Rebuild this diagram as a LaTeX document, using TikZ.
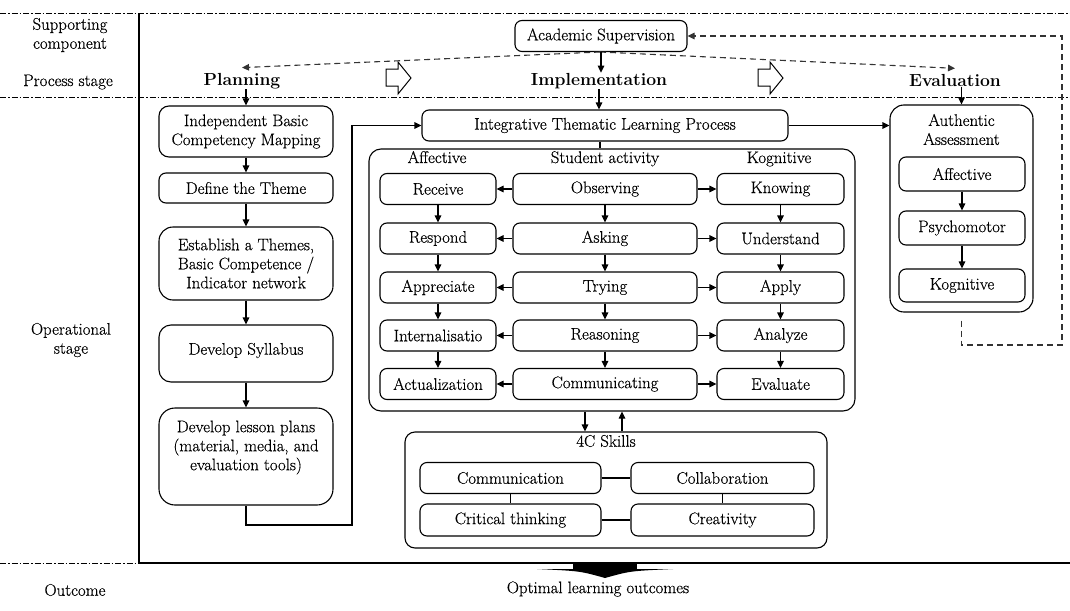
\documentclass[tikz,border=0pt]{standalone}
\usepackage{fontspec}
\usetikzlibrary{arrows.meta}
\newfontfamily\bodyff{Latin Modern Roman}[FakeBold=0.4]
\newcommand{\bodyfs}{\bodyff\fontsize{16.8}{19}\selectfont}
\newcommand{\headfs}{\fontsize{17.5}{20}\selectfont\bfseries}
\begin{document}
\begin{tikzpicture}[x=1pt,y=-1pt,
  line width=1.1pt,
  box/.style={draw, rounded corners=7pt, inner sep=0pt, align=center, font=\bodyfs},
  txt/.style={inner sep=0pt, align=center, font=\bodyfs},
  head/.style={inner sep=0pt, font=\headfs},
  arr/.style={-{Triangle[length=7pt,width=6.5pt]}},
  dashdot/.style={line width=1pt, dash pattern=on 6pt off 2pt on 1.5pt off 2pt},
  fb/.style={dash pattern=on 6pt off 4pt, color=black!80},
]
\useasboundingbox (0,0) rectangle (1070,610);

% frame
\draw[dashdot] (0,14) -- (1070,14);
\draw[dashdot] (0,97) -- (1070,97);
\draw[dashdot] (0,563) -- (139,563);
\draw[line width=1.3pt] (139,14) -- (139,563) -- (1070,563);

% side labels
\node[txt] (sup) at (70,35) {Supporting\\component};
\node[txt] (proc) at (68,82) {Process stage};
\node[txt] (oper) at (71,340) {Operational\\stage};
\node[txt] (outc) at (75,590) {Outcome};

% supervision and stages
\node[box, minimum width=172, minimum height=31] (acad) at (601,36) {Academic Supervision};
\node[head] (plan) at (242,81) {Planning};
\node[head] (impl) at (599,81) {Implementation};
\node[head] (eval) at (955,80) {Evaluation};

\coordinate (acs) at (600,52);
\draw[fb, arr] (acs) -- ([yshift=5pt]plan.north);
\draw[fb, arr] (acs) -- ([yshift=5pt]eval.north);
\draw[arr] (acad.south) -- (acad.south |- impl.north);

% hollow arrows
\draw[line width=1pt, fill=white] (386,69) -- (398,69) -- (398,62) -- (411,78) -- (398,94) -- (398,86) -- (386,86) -- cycle;
\draw[line width=1pt, fill=white] (758,69) -- (770,69) -- (770,62) -- (783,78) -- (770,94) -- (770,86) -- (758,86) -- cycle;

% planning column
\node[box, rounded corners=10pt, minimum width=174, minimum height=51] (ibcm) at (246,131.5) {Independent Basic\\Competency Mapping};
\node[box, minimum width=174, minimum height=30] (theme) at (246,188) {Define the Theme};
\node[box, rounded corners=14pt, minimum width=174, minimum height=73] (estab) at (246,263.5) {Establish a Themes,\\Basic Competence /\\Indicator network};
\node[box, rounded corners=12pt, minimum width=174, minimum height=57] (syll) at (246,353.5) {};
\node[txt] (syllT) at ([yshift=3pt]syll.center) {Develop Syllabus};
\node[box, rounded corners=16pt, minimum width=174, minimum height=97] (lesson) at (246,456.5) {};
\node[txt] (lessonT) at ([yshift=9pt]lesson.center) {Develop lesson plans\\(material, media, and\\evaluation tools)};

\draw[arr] (ibcm.north |- plan.south) -- (ibcm.north);
\draw[arr] (ibcm.south) -- (theme.north);
\draw[arr] (theme.south) -- (estab.north);
\draw[arr] (estab.south) -- (syll.north);
\draw[arr] (syll.south) -- (lesson.north);

% implementation
\node[box, minimum width=366, minimum height=31] (integ) at (605,125.5) {Integrative Thematic Learning Process};
\draw[arr] (impl.south) -- (impl.south |- integ.north);
\coordinate (c2) at (352,525);
\draw[arr] (lesson.south) -- (lesson.south |- c2) -- (c2) -- (c2 |- integ.west) -- (integ.west);

\node[draw, rounded corners=12pt, minimum width=486, minimum height=262, inner sep=0pt] (act) at (612,280) {};
\coordinate (ix) at (600,0);
\draw (integ.south -| ix) -- (act.north -| ix);

\node[txt, anchor=base] (hAff) at (437,163) {Affective};
\node[txt, anchor=base] (hStu) at (605,163) {Student activity};
\node[txt, anchor=base] (hKog) at (779,163) {Kognitive};

\foreach \i/\y/\a/\s/\k in {1/189/Receive/Observing/Knowing, 2/238.5/Respond/Asking/Understand, 3/287.5/Appreciate/Trying/Apply, 4/335.5/Internalisatio/Reasoning/Analyze, 5/384/Actualization/Communicating/Evaluate} {
  \node[box, minimum width=116, minimum height=31] (a\i) at (438,\y) {\a};
  \node[box, minimum width=184, minimum height=31] (s\i) at (605,\y) {\s};
  \node[box, minimum width=127, minimum height=31] (k\i) at (780.5,\y) {\k};
  \draw[arr] (s\i.west) -- (a\i.east);
  \draw[arr] (s\i.east) -- (k\i.west);
}
\foreach \i/\j in {1/2,2/3,3/4,4/5} {
  \draw[arr] (a\i.south) -- (a\j.north);
  \draw[arr] (s\i.south) -- (s\j.north);
  \draw[arr] (k\i.south) -- (k\j.north);
}

% 4C skills
\node[box, rounded corners=10pt, minimum width=422, minimum height=116] (fourc) at (616,490) {};
\node[txt] (fourcT) at (606,441) {4C Skills};
\node[box, minimum width=181, minimum height=31] (comm) at (510.5,478) {Communication};
\node[box, minimum width=183, minimum height=31] (coll) at (722.5,478) {Collaboration};
\node[box, minimum width=181, minimum height=32] (crit) at (510.5,520) {Critical thinking};
\node[box, minimum width=183, minimum height=32] (crea) at (722.5,520) {Creativity};
\draw (comm.east) -- (coll.west);
\draw (crit.east) -- (crea.west);
\draw (comm.south) -- (crit.north);
\draw (coll.south) -- (crea.north);
\coordinate (d1) at (585,0);
\coordinate (d2) at (622,0);
\draw[arr] (act.south -| d1) -- (fourc.north -| d1);
\draw[arr] (fourc.north -| d2) -- (act.south -| d2);

% evaluation
\node[box, rounded corners=14pt, minimum width=143, minimum height=207] (auth) at (961.5,208.5) {};
\node[txt] (authT) at (961.5,129.5) {Authentic\\Assessment};
\node[box, minimum width=126, minimum height=34] (aaff) at (962,174) {Affective};
\node[box, minimum width=126, minimum height=34] (apsy) at (962,228) {Psychomotor};
\node[box, minimum width=126, minimum height=33] (akog) at (962,285.5) {Kognitive};
\draw[arr] (aaff.south) -- (apsy.north);
\draw[arr] (apsy.south) -- (akog.north);
\draw[arr] (auth.north |- eval.south) -- (auth.north);
\draw[arr] (integ.east) -- (integ.east -| auth.west);

% feedback loop
\coordinate (fb1) at (1062,345);
\draw[fb, arr] ([yshift=-8pt]auth.south) -- (auth.south |- fb1) -- (fb1) -- (fb1 |- acad.east) -- (acad.east);

% outcome arrow
\fill (573,562) rectangle (637,570);
\fill (537,569) -- (673,569) .. controls (630,571) .. (605,578) .. controls (580,571) .. (537,569) -- cycle;
\node[txt] (optim) at (598,589) {Optimal learning outcomes};
\end{tikzpicture}
\end{document}
